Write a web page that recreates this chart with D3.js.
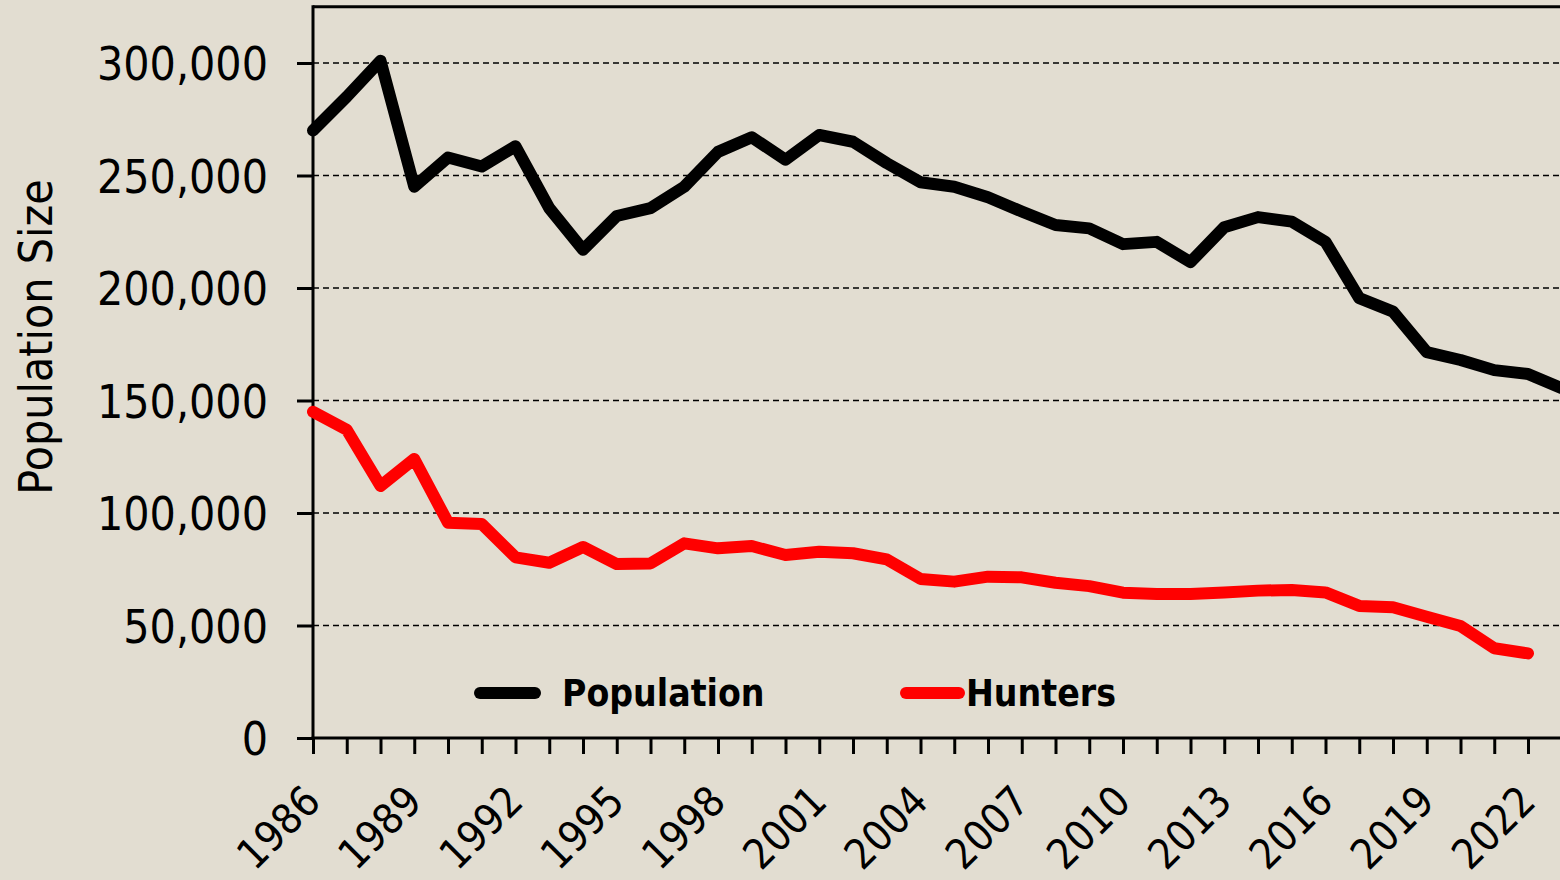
<!DOCTYPE html>
<html>
<head>
<meta charset="utf-8">
<script src="https://cdn.jsdelivr.net/npm/d3@7"></script>
<style>
  html, body { margin: 0; padding: 0; background: #E2DDD1; }
  svg { display: block; }
</style>
</head>
<body>
<svg id="chart" width="1560" height="880"></svg>
<script>
// ---- Data ----
const years = [1986, 1987, 1988, 1989, 1990, 1991, 1992, 1993, 1994, 1995,
               1996, 1997, 1998, 1999, 2000, 2001, 2002, 2003, 2004, 2005,
               2006, 2007, 2008, 2009, 2010, 2011, 2012, 2013, 2014, 2015,
               2016, 2017, 2018, 2019, 2020, 2021, 2022, 2023];
const population = [270000, 285000, 301000, 245000, 258000, 254000, 263000, 235500, 217000, 232000,
                    235500, 245000, 260500, 267000, 257000, 268000, 265000, 255500, 247000, 245000,
                    240300, 234000, 228000, 226500, 219500, 220500, 211500, 227000, 231500, 229500,
                    220500, 195500, 189500, 171500, 168000, 163500, 161800, 155500];
const hunters = [145000, 137000, 112000, 124000, 95700, 95100, 80300, 77900, 84900, 77300,
                 77600, 86500, 84300, 85300, 81300, 82800, 82100, 79400, 70700, 69500,
                 71700, 71400, 69000, 67500, 64600, 64000, 64000, 64700, 65500, 65800,
                 64700, 58700, 58100, 53900, 49800, 39900, 37600];
const yTicks = [0, 50000, 100000, 150000, 200000, 250000, 300000];
const xLabelYears = [1986, 1989, 1992, 1995, 1998, 2001, 2004, 2007, 2010, 2013, 2016, 2019, 2022];
const seriesNames = ["Population", "Hunters"];
const seriesColors = ["#000000", "#FF0000"];
const yTitle = "Population Size";

// ---- Layout ----
const svg = d3.select("#chart");
const left = 313, bottom = 738, step = 33.75;
const x = d3.scaleLinear().domain([1986, 2023]).range([left, left + 37 * step]);
const y = d3.scaleLinear().domain([0, 325000]).range([bottom, bottom - 325000 * 0.00225]);
const FONT = "'DejaVu Sans Condensed', 'DejaVu Sans', sans-serif";
const plotRight = 1600;

// gridlines
svg.append("g").selectAll("line")
  .data(yTicks.filter(d => d > 0))
  .join("line")
  .attr("x1", left).attr("x2", plotRight)
  .attr("y1", d => y(d)).attr("y2", d => y(d))
  .attr("stroke", "#000").attr("stroke-width", 1.3)
  .attr("stroke-dasharray", "6,4");

// top border
svg.append("line")
  .attr("x1", left).attr("x2", plotRight)
  .attr("y1", y(325000)).attr("y2", y(325000))
  .attr("stroke", "#000").attr("stroke-width", 3);

// y axis
const yAxis = svg.append("g")
  .attr("transform", `translate(${left},0)`)
  .call(d3.axisLeft(y).tickValues(yTicks).tickSize(16).tickPadding(29)
        .tickFormat(d3.format(",")));
yAxis.select(".domain").attr("stroke", "#000").attr("stroke-width", 3)
  .attr("d", `M0,${bottom + 1.5}V${y(325000) - 1.5}`);
yAxis.selectAll(".tick line").attr("stroke", "#000").attr("stroke-width", 3);
yAxis.selectAll(".tick text").attr("font-family", FONT).attr("font-size", 46)
  .attr("fill", "#000").attr("dy", "0.36em");

// x axis
const xAxis = svg.append("g")
  .attr("transform", `translate(0,${bottom})`)
  .call(d3.axisBottom(x).tickValues(years.slice(0, 37)).tickSize(16).tickFormat(""));
xAxis.select(".domain").attr("stroke", "#000").attr("stroke-width", 3)
  .attr("d", `M${left - 1.5},0H${plotRight}`);
xAxis.selectAll(".tick line").attr("stroke", "#000").attr("stroke-width", 3);

svg.append("g").selectAll("text")
  .data(xLabelYears)
  .join("text")
  .attr("transform", d => `translate(${x(d) - 1},${bottom + 55}) rotate(-45)`)
  .attr("text-anchor", "end")
  .attr("dy", "0.36em")
  .attr("font-family", FONT).attr("font-size", 42).attr("fill", "#000")
  .text(d => d);

// y title
svg.append("text")
  .attr("transform", `translate(35,337) rotate(-90)`)
  .attr("text-anchor", "middle").attr("dy", "0.36em")
  .attr("font-family", FONT).attr("font-size", 46).attr("fill", "#000")
  .text(yTitle);

// lines
const line = d3.line().x((d, i) => x(years[i])).y(d => y(d));
[population, hunters].forEach((vals, k) => {
  svg.append("path")
    .datum(vals)
    .attr("d", line)
    .attr("fill", "none")
    .attr("stroke", seriesColors[k])
    .attr("stroke-width", 12)
    .attr("stroke-linejoin", "round")
    .attr("stroke-linecap", "round");
});

// legend
const legendItems = [
  { x1: 480, x2: 535, tx: 562 },
  { x1: 906, x2: 959, tx: 966 }
];
legendItems.forEach((it, k) => {
  svg.append("line")
    .attr("x1", it.x1).attr("x2", it.x2).attr("y1", 693).attr("y2", 693)
    .attr("stroke", seriesColors[k]).attr("stroke-width", 12)
    .attr("stroke-linecap", "round");
  svg.append("text")
    .attr("x", it.tx).attr("y", 706)
    .attr("font-family", FONT).attr("font-weight", "bold").attr("font-size", 37)
    .attr("fill", "#000")
    .text(seriesNames[k]);
});
</script>
</body>
</html>
